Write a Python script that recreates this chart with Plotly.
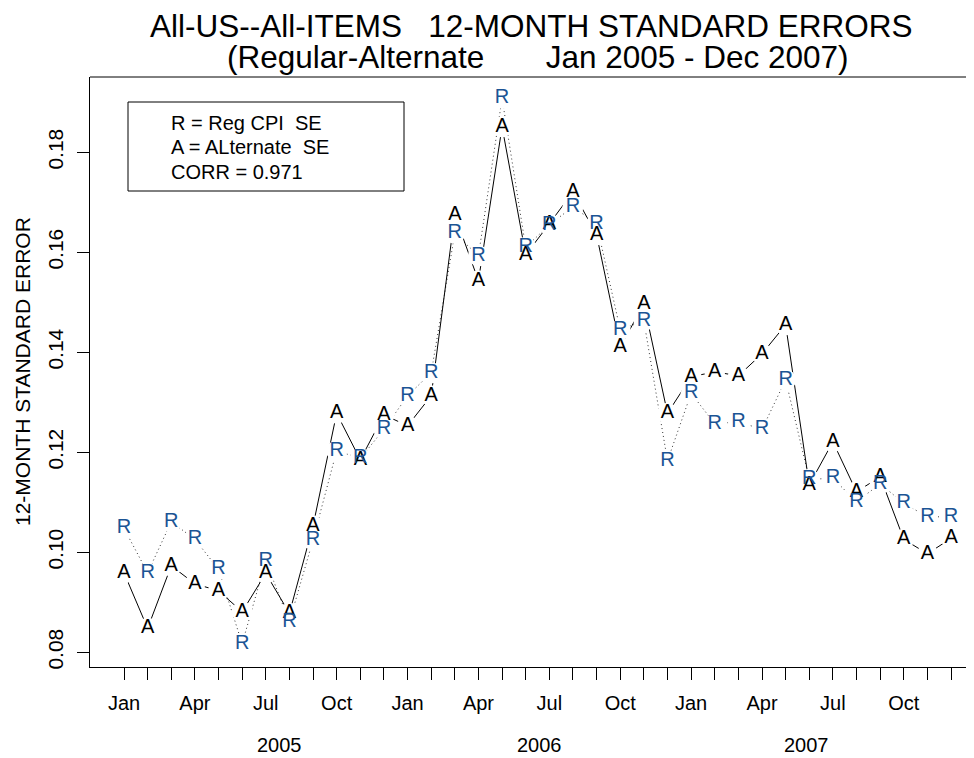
import plotly.graph_objects as go

# ---------------- data ----------------
months = ["Jan", "Feb", "Mar", "Apr", "May", "Jun", "Jul", "Aug", "Sep", "Oct", "Nov", "Dec"]
years = ["2005", "2006", "2007"]
month_index = list(range(36))
tick_text = [m if m in ("Jan", "Apr", "Jul", "Oct") else "" for y in years for m in months]
year_label_pos = [6.6, 17.6, 28.9]

alt_se = [0.0959, 0.0848, 0.0973, 0.0937, 0.0923, 0.0881, 0.0958, 0.0878, 0.1053, 0.1278, 0.1185, 0.1275,
          0.1253, 0.1313, 0.1675, 0.1543, 0.1851, 0.1595, 0.1657, 0.1721, 0.1635, 0.1410, 0.1497, 0.1278,
          0.1351, 0.1361, 0.1353, 0.1397, 0.1455, 0.1135, 0.1221, 0.1121, 0.1151, 0.1026, 0.0997, 0.1028]
reg_se = [0.1048, 0.0959, 0.1061, 0.1026, 0.0966, 0.0817, 0.0983, 0.0861, 0.1025, 0.1203, 0.1188, 0.1246,
          0.1313, 0.1359, 0.1638, 0.1593, 0.1908, 0.1610, 0.1655, 0.1691, 0.1657, 0.1445, 0.1463, 0.1183,
          0.1318, 0.1257, 0.1261, 0.1246, 0.1345, 0.1146, 0.1148, 0.1101, 0.1137, 0.1098, 0.1071, 0.1071]

y_ticks = [0.08, 0.10, 0.12, 0.14, 0.16, 0.18]
y_tick_text = ["0.08", "0.10", "0.12", "0.14", "0.16", "0.18"]
legend_lines = ["R = Reg CPI\u00a0\u00a0SE", "A = ALternate\u00a0\u00a0SE", "CORR = 0.971"]
title_lines = ["All-US--All-ITEMS\u00a0\u00a0\u00a012-MONTH STANDARD ERRORS",
               "(Regular-Alternate\u00a0\u00a0\u00a0\u00a0\u00a0\u00a0\u00a0Jan 2005 - Dec 2007)"]
y_title = "12-MONTH STANDARD ERROR"

FONT = "Liberation Sans, Arial, Helvetica, sans-serif"
BLUE = "#1B5494"

fig = go.Figure()

# connecting lines
fig.add_trace(go.Scatter(x=month_index, y=reg_se, mode="lines",
                         line=dict(color="#333333", width=1, dash="1px,3px"), hoverinfo="skip"))
fig.add_trace(go.Scatter(x=month_index, y=alt_se, mode="lines",
                         line=dict(color="black", width=1), hoverinfo="skip"))
# white gaps around the letters (type="b" look)
for series in (alt_se, reg_se):
    fig.add_trace(go.Scatter(x=month_index, y=series, mode="markers",
                             marker=dict(color="white", size=21, line=dict(width=0)),
                             hoverinfo="skip"))
# letters
fig.add_trace(go.Scatter(x=month_index, y=alt_se, mode="text", text=["A"] * len(alt_se),
                         textposition="middle center",
                         textfont=dict(family=FONT, size=20, color="black"), name="ALternate SE"))
fig.add_trace(go.Scatter(x=month_index, y=reg_se, mode="text", text=["R"] * len(reg_se),
                         textposition="middle center",
                         textfont=dict(family=FONT, size=20, color=BLUE), name="Reg CPI SE"))

# The page body adds an 8px margin, so the figure is 8px smaller than the window.
BODY = 8
W, H = 974 - BODY, 758 - BODY
# plot area in window pixels: left 90, top 77, bottom 667, right past the edge
PL, PT, PB = 90, 77, 667
ML, MT, MB, MR = PL - BODY, PT - BODY, H - (PB - BODY), 0
plot_w = W - ML - MR
plot_h = H - MT - MB


def px(xw):
    return (xw - PL) / plot_w


def py(yw):
    return 1 - (yw - PT) / plot_h


px_per_month = 23.63
x0 = (PL - 124) / px_per_month
x1 = x0 + plot_w / px_per_month
y_top = 0.10 + (552.3 - PT) / 5000
y_bot = y_top - plot_h / 5000

annotations = []
# titles
annotations.append(dict(text=title_lines[0], xref="paper", yref="paper", x=px(531), y=py(26),
                        xanchor="center", yanchor="middle", showarrow=False,
                        font=dict(family=FONT, size=31.5, color="black")))
annotations.append(dict(text=title_lines[1], xref="paper", yref="paper", x=px(538), y=py(57),
                        xanchor="center", yanchor="middle", showarrow=False,
                        font=dict(family=FONT, size=31.5, color="black")))
# y axis title
annotations.append(dict(text=y_title, xref="paper", yref="paper", x=px(22), y=py(372),
                        xanchor="center", yanchor="middle", textangle=-90, showarrow=False,
                        font=dict(family=FONT, size=21, color="black")))
# year labels
for yr, pos in zip(years, year_label_pos):
    annotations.append(dict(text=yr, xref="x", yref="paper", x=pos, y=py(745),
                            xanchor="center", yanchor="middle", showarrow=False,
                            font=dict(family=FONT, size=20, color="black")))
# legend text
for i, line in enumerate(legend_lines):
    annotations.append(dict(text=line, xref="paper", yref="paper", x=px(169),
                            y=py(123 + 24.5 * i), xanchor="left", yanchor="middle",
                            showarrow=False, font=dict(family=FONT, size=20, color="black")))

shapes = [
    # top frame line (right side of frame falls outside the picture)
    dict(type="line", xref="paper", yref="paper", x0=0, x1=1, y0=1, y1=1,
         line=dict(color="black", width=1)),
    # legend box
    dict(type="rect", xref="paper", yref="paper",
         x0=px(128), x1=px(404), y0=py(191), y1=py(102),
         line=dict(color="black", width=1), fillcolor="rgba(0,0,0,0)"),
]

fig.update_layout(
    width=W, height=H,
    margin=dict(l=ML, r=MR, t=MT, b=MB, pad=0),
    paper_bgcolor="white", plot_bgcolor="white",
    showlegend=False,
    font=dict(family=FONT, color="black"),
    annotations=annotations, shapes=shapes,
    xaxis=dict(range=[x0, x1], tickmode="array", tickvals=month_index, ticktext=tick_text,
               ticks="outside", ticklen=12, tickwidth=1, tickcolor="black",
               showline=True, linecolor="black", linewidth=1, showgrid=False, zeroline=False,
               tickfont=dict(family=FONT, size=20, color="black"), ticklabelstandoff=6,
               fixedrange=True),
    yaxis=dict(range=[y_bot, y_top], tickmode="array", tickvals=y_ticks, ticktext=y_tick_text,
               ticks="outside", ticklen=12, tickwidth=1, tickcolor="black", tickangle=-90,
               showline=True, linecolor="black", linewidth=1, showgrid=False, zeroline=False,
               tickfont=dict(family=FONT, size=21, color="black"), ticklabelstandoff=6,
               fixedrange=True),
)

fig.write_html("out.html")
